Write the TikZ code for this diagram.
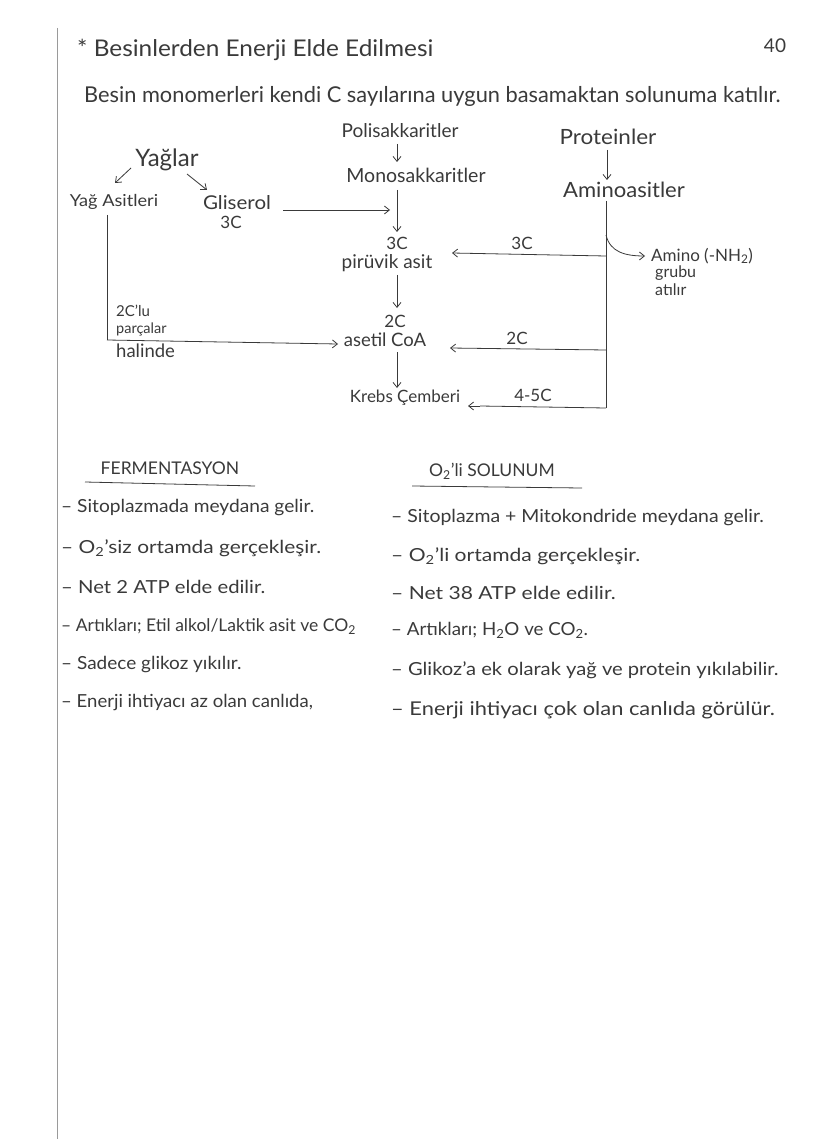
\documentclass[tikz,border=0pt]{standalone}
\usepackage{fontspec}
\usepackage{graphicx}
\setmainfont{Lato}
\usetikzlibrary{arrows.meta}
\definecolor{ink}{HTML}{3A3A3A}
\definecolor{margin}{HTML}{9A9A9A}
\newcommand{\wx}[2]{\scalebox{#1}[1]{#2}}
\begin{document}
\begin{tikzpicture}[x=1pt,y=-1pt,
  every node/.style={text=ink, inner sep=1pt, font=\fontsize{16}{18}\selectfont},
  fs/.style={font=\fontsize{#1}{#1}\selectfont},
  ln/.style={draw=ink, line width=0.8pt},
  arr/.style={ln, -{Straight Barb[length=5pt,width=8pt]}},
  item/.style={anchor=west, font=\fontsize{#1}{#1}\selectfont}]
\fill[white] (0,0) rectangle (828,1139);
\useasboundingbox (0,0) rectangle (828,1139);
\draw[margin, line width=0.8pt] (57,28) -- (57,1139);

% header
\node[fs=23, anchor=west] (title) at (76,50) {\wx{1.06}{* Besinlerden Enerji Elde Edilmesi}};
\node[fs=19] (page) at (775,46) {40};
\node[fs=21.8, anchor=west] (sub) at (83,96) {Besin monomerleri kendi C sayılarına uygun basamaktan solunuma katılır.};

% diagram
\node[fs=24] (yaglar) at (167,160) {Yağlar};
\node[fs=16.5] (yagasit) at (114,202) {\wx{1.1}{Yağ Asitleri}};
\node[fs=19] (gliserol) at (237,203) {\wx{1.08}{Gliserol}};
\node[fs=17] (g3c) at (231,222) {3C};
\node[fs=19] (poli) at (400,131) {Polisakkaritler};
\node[fs=19.5] (mono) at (416,175) {Monosakkaritler};
\node[fs=17] (p3c) at (397,243) {3C};
\node[fs=19] (piru) at (387,263) {pirüvik asit};
\node[fs=17] (a2c) at (395,321) {2C};
\node[fs=18.5] (acoa) at (385,340) {asetil CoA};
\node[fs=17] (krebs) at (405,398) {Krebs Çemberi};
\node[fs=21] (prot) at (608,137) {\wx{1.07}{Proteinler}};
\node[fs=21] (amino) at (624,190) {\wx{1.05}{Aminoasitler}};
\node[fs=17, anchor=west] (nh2) at (650,256) {Amino (-NH\textsubscript{2})};
\node[fs=16, anchor=west] (grubu) at (654,273) {grubu};
\node[fs=16, anchor=west] (atilir) at (654,290) {atılır};
\node[fs=17] (l3c) at (522,243) {3C};
\node[fs=17] (l2c) at (517,338) {2C};
\node[fs=17] (l45c) at (533,395) {4-5C};
\node[fs=15, anchor=west] (c2lu) at (115,311) {2C'lu};
\node[fs=14.5, anchor=west] (parca) at (115,329) {parçalar};
\node[fs=18.5, anchor=west] (halinde) at (115,351) {halinde};

\coordinate (yaR) at (131,168);
\coordinate (yaL) at (187,174);
\draw[arr] (yaR) -- (115,183);
\draw[arr] (yaL) -- (207,190);
\draw[arr] (397,144) -- (397,162);
\draw[arr] (397,190) -- (397,232);
\coordinate (gliE) at (283,210);
\coordinate (gliT) at (390,210);
\draw[arr] (gliE) -- (gliT);
\draw[arr] (397,275) -- (397,308);
\draw[arr] (397,352) -- (397,388);
\draw[arr] (607,150) -- (607,180);

% protein branch
\coordinate (pv1) at (606,201);
\coordinate (pv2) at (606,408);
\draw[ln] (pv1) -- (pv2);
\draw[arr] (606,256) -- (452,253);
\draw[arr] (606,235) .. controls (610,252) and (625,256) .. (645,256);
\draw[arr] (606,350) -- (450,348);
\draw[ln] (606,408) -- (480,406);
\draw[arr] (480,406) -- (468,406);

% fatty acid branch
\draw[ln] (107,215) -- (107,340);
\draw[arr] (107,340) -- (338,344);

% lower section
\node[fs=17.5] (ferm) at (170,468) {FERMENTASYON};
\draw[ln] (85,482) -- (255,486);
\node[fs=17.5] (o2s) at (492,471) {O\textsubscript{2}'li SOLUNUM};
\draw[ln] (412,486) -- (582,488);

\node[item=18] (f1) at (60,508) {\wx{1.065}{– Sitoplazmada meydana gelir.}};
\node[item=18] (f2) at (60,548) {\wx{1.16}{– O\textsubscript{2}'siz ortamda gerçekleşir.}};
\node[item=18] (f3) at (60,587) {\wx{1.125}{– Net 2 ATP elde edilir.}};
\node[item=17.5] (f4) at (60,627) {– Artıkları; Etil alkol/Laktik asit ve CO\textsubscript{2}};
\node[item=18] (f5) at (60,665) {\wx{1.055}{– Sadece glikoz yıkılır.}};
\node[item=18] (f6) at (60,703) {\wx{1.03}{– Enerji ihtiyacı az olan canlıda,}};

\node[item=18] (s1) at (390,518) {\wx{1.08}{– Sitoplazma + Mitokondride meydana gelir.}};
\node[item=18] (s2) at (390,556) {\wx{1.17}{– O\textsubscript{2}'li ortamda gerçekleşir.}};
\node[item=18] (s3) at (390,593) {\wx{1.17}{– Net 38 ATP elde edilir.}};
\node[item=18] (s4) at (390,630) {\wx{1.04}{– Artıkları; H\textsubscript{2}O ve CO\textsubscript{2}.}};
\node[item=18] (s5) at (390,670) {\wx{1.12}{– Glikoz'a ek olarak yağ ve protein yıkılabilir.}};
\node[item=19] (s6) at (390,710) {\wx{1.15}{– Enerji ihtiyacı çok olan canlıda görülür.}};
\end{tikzpicture}
\end{document}
